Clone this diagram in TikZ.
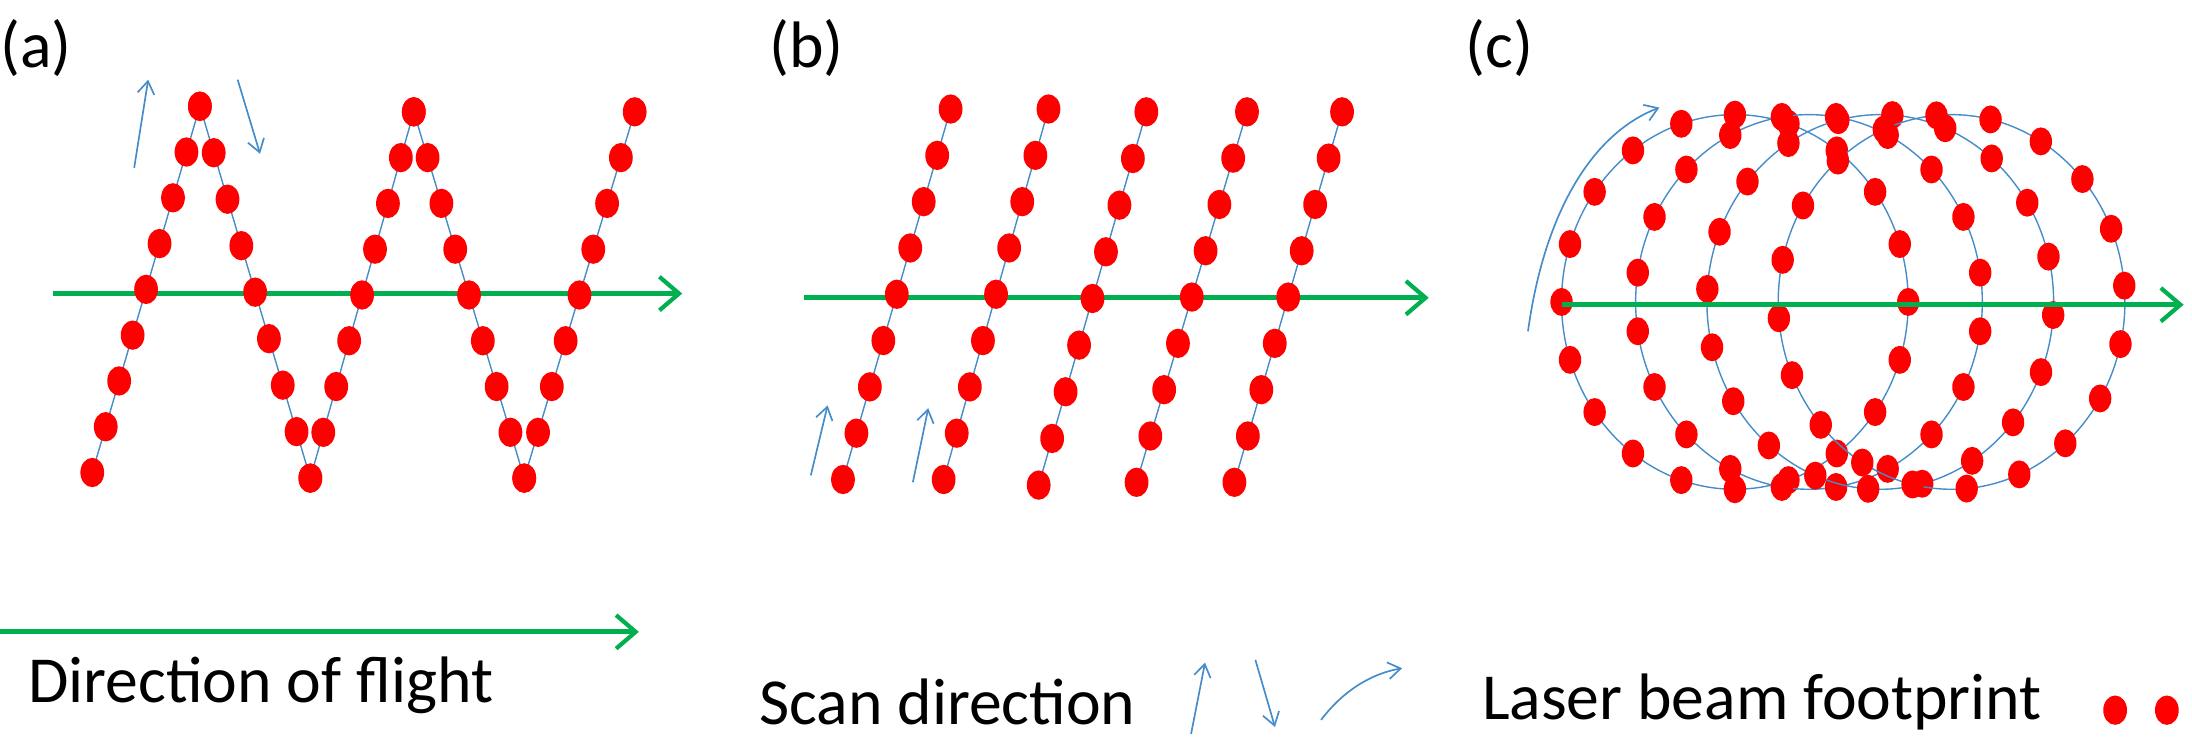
\documentclass[tikz,border=0pt]{standalone}
\usepackage{fontspec}
\setmainfont{Carlito}
\usetikzlibrary{calc,arrows.meta}
\definecolor{gr}{RGB}{0,176,80}
\definecolor{bl}{RGB}{70,140,200}
\begin{document}
\begin{tikzpicture}[x=1pt,y=-1pt,
 flight/.style={gr,line width=3.5pt,-{Straight Barb[length=14pt,width=24pt,line width=3pt]}},
 scan/.style={bl,line width=1pt},
 sarrow/.style={bl,line width=1.2pt,-{Straight Barb[length=9pt,width=12pt]}},
 dot/.style={red},
 txt/.style={font=\fontsize{47}{50}\selectfont,inner sep=0pt,anchor=west}]
\useasboundingbox (0,0) rectangle (1568,529);
\node[txt] (la) at (0,34) {(a)};
\node[txt] (lb) at (550,34) {(b)};
\node[txt] (lc) at (1048,34) {(c)};
% panel a
\draw[flight] (38,210) -- (488,210);
\foreach \ax/\ay/\bx/\by in {66/338/143/76, 143/76/222/342, 222/342/296/80, 296/80/375/342, 375/342/454/80}{
  \draw[scan] (\ax,\ay) -- (\bx,\by);
  \foreach \i in {0,...,8} \fill[dot] ($(\ax,\ay)!\i/8!(\bx,\by)$) ellipse (8.5 and 10.5);
}
\draw[sarrow] (96,120) -- (106,57);
\draw[sarrow] (170,57) -- (186,110);
% panel b
\draw[flight] (575,213) -- (1022,213);
\foreach \ax/\ay/\bx/\by in {603/343/680/78, 675/343/750/78, 743/347/820/80, 813/345/892/80, 883/345/960/80}{
  \draw[scan] (\ax,\ay) -- (\bx,\by);
  \foreach \i in {0,...,8} \fill[dot] ($(\ax,\ay)!\i/8!(\bx,\by)$) ellipse (8.5 and 10.5);
}
\draw[sarrow] (580,340) -- (592,290);
\draw[sarrow] (653,345) -- (664,292);
% panel c
\foreach \cx/\off in {1241/0, 1294/9, 1345/4, 1396/13}{
  \draw[scan] (\cx,216) ellipse (124 and 134);
  \foreach \t in {0,18,...,342} \fill[dot] ($(\cx,216)+({124*cos(\t+\off)},{134*sin(\t+\off)})$) ellipse (8 and 10);
}
\draw[flight] (1117,218) -- (1562,218);
\draw[sarrow] (1093,237) .. controls (1105,150) and (1140,95) .. (1187,77);
% legend
\draw[flight] (0,452) -- (457,452);
\node[txt] (t1) at (20,490) {Direction of flight};
\node[txt] (t2) at (543,502) {Scan direction};
\draw[sarrow] (852,525) -- (862,474);
\draw[sarrow] (898,472) -- (912,520);
\draw[sarrow] (945,515) .. controls (960,495) and (980,482) .. (1003,478);
\node[txt] (t3) at (1060,502) {Laser beam footprint};
\fill[dot] (1513,508) ellipse (8.5 and 10.5);
\fill[dot] (1550,508) ellipse (8.5 and 10.5);
\end{tikzpicture}
\end{document}
